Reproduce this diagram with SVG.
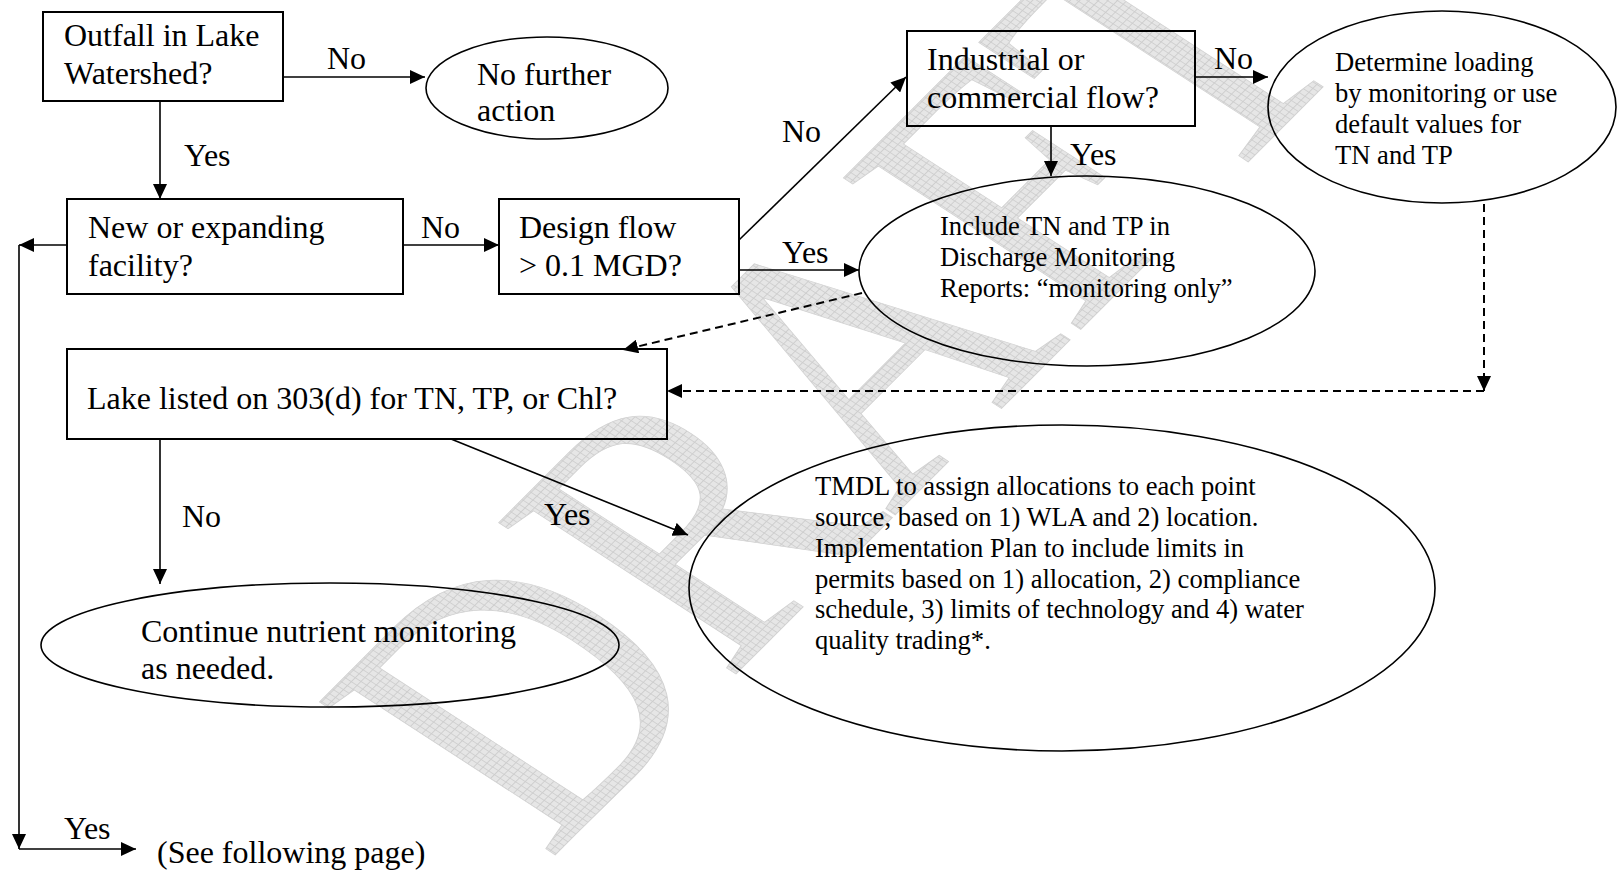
<svg xmlns="http://www.w3.org/2000/svg" width="1619" height="870" viewBox="0 0 1619 870">
<defs>
<pattern id="hatch" width="7" height="7" patternUnits="userSpaceOnUse">
<rect width="7" height="7" fill="#e6e6e6"/>
<path d="M0 0.5H7M0.5 0V7" stroke="#cccccc" stroke-width="1"/>
</pattern>
<marker id="ah" markerWidth="16" markerHeight="14" refX="15" refY="7" orient="auto" markerUnits="userSpaceOnUse">
<path d="M0,0 L15,7 L0,14 Z" fill="#000"/>
</marker>
</defs>
<style>
.box{fill:none;stroke:#000;stroke-width:2}
.ell{fill:none;stroke:#000;stroke-width:1.6}
.t{font-family:"Liberation Serif","Times New Roman",serif;font-size:32px;fill:#000}
.s{font-family:"Liberation Serif","Times New Roman",serif;font-size:26.6px;fill:#000}
.c{fill:none;stroke:#000;stroke-width:1.6}
.d{fill:none;stroke:#000;stroke-width:2;stroke-dasharray:8 5}
.wm{font-family:"Liberation Serif","Times New Roman",serif;font-size:440px;fill:url(#hatch);stroke:#d2d2d2;stroke-width:1}
</style>
<rect width="1619" height="870" fill="#fff"/>
<text class="wm" transform="matrix(0.564 -0.564 0.818 0.531 548 862)">DRAFT</text>

<g id="connectors">
<path class="c" d="M283,77 H425" marker-end="url(#ah)"/>
<path class="c" d="M160,101 V199" marker-end="url(#ah)"/>
<path class="c" d="M403,245 H499" marker-end="url(#ah)"/>
<path class="c" d="M67,245 H19" marker-end="url(#ah)"/>
<path class="c" d="M19,245 V849" marker-end="url(#ah)"/>
<path class="c" d="M19,849 H136" marker-end="url(#ah)"/>
<path class="c" d="M739,240 L906,77" marker-end="url(#ah)"/>
<path class="c" d="M739,270 H859" marker-end="url(#ah)"/>
<path class="c" d="M1195,77 H1268" marker-end="url(#ah)"/>
<path class="c" d="M1051,126 V176" marker-end="url(#ah)"/>
<path class="d" d="M862,293 L623,350" marker-end="url(#ah)"/>
<path class="d" d="M1484,204 V391" marker-end="url(#ah)"/>
<path class="d" d="M1484,391 H667" marker-end="url(#ah)"/>
<path class="c" d="M160,439 V584" marker-end="url(#ah)"/>
<path class="c" d="M451,439 L688,535" marker-end="url(#ah)"/>
<text class="t" x="327" y="69">No</text>
<text class="t" x="184" y="166">Yes</text>
<text class="t" x="421" y="238">No</text>
<text class="t" x="782" y="142">No</text>
<text class="t" x="782" y="263">Yes</text>
<text class="t" x="1214" y="69">No</text>
<text class="t" x="1070" y="165">Yes</text>
<text class="t" x="182" y="527">No</text>
<text class="t" x="544" y="525">Yes</text>
<text class="t" x="64" y="839">Yes</text>
<text class="t" x="157" y="863">(See following page)</text>
</g>

<g id="outfall">
<rect class="box" x="43" y="12" width="240" height="89"/>
<text class="t" x="64" y="46">Outfall in Lake</text>
<text class="t" x="64" y="84">Watershed?</text>
</g>
<g id="nofurther">
<ellipse class="ell" cx="547" cy="88" rx="121" ry="51"/>
<text class="t" x="477" y="85">No further</text>
<text class="t" x="477" y="121">action</text>
</g>
<g id="newexpanding">
<rect class="box" x="67" y="199" width="336" height="95"/>
<text class="t" x="88" y="238">New or expanding</text>
<text class="t" x="88" y="276">facility?</text>
</g>
<g id="designflow">
<rect class="box" x="499" y="199" width="240" height="95"/>
<text class="t" x="519" y="238">Design flow</text>
<text class="t" x="519" y="276">&gt; 0.1 MGD?</text>
</g>
<g id="industrial">
<rect class="box" x="907" y="31" width="288" height="95"/>
<text class="t" x="927" y="70">Industrial or</text>
<text class="t" x="927" y="108">commercial flow?</text>
</g>
<g id="determine">
<ellipse class="ell" cx="1442" cy="107" rx="174" ry="96"/>
<text class="s" x="1335" y="71">Determine loading</text>
<text class="s" x="1335" y="102">by monitoring or use</text>
<text class="s" x="1335" y="133">default values for</text>
<text class="s" x="1335" y="164">TN and TP</text>
</g>
<g id="include">
<ellipse class="ell" cx="1087" cy="271" rx="228" ry="95"/>
<text class="s" x="940" y="235">Include TN and TP in</text>
<text class="s" x="940" y="266">Discharge Monitoring</text>
<text class="s" x="940" y="297">Reports: “monitoring only”</text>
</g>
<g id="lakelisted">
<rect class="box" x="67" y="349" width="600" height="90"/>
<text class="t" x="87" y="409">Lake listed on 303(d) for TN, TP, or Chl?</text>
</g>
<g id="continue">
<ellipse class="ell" cx="330" cy="645" rx="289" ry="62"/>
<text class="t" x="141" y="642">Continue nutrient monitoring</text>
<text class="t" x="141" y="679">as needed.</text>
</g>
<g id="tmdl">
<ellipse class="ell" cx="1062" cy="588" rx="373" ry="163"/>
<text class="s" x="815" y="495">TMDL to assign allocations to each point</text>
<text class="s" x="815" y="526">source, based on 1) WLA and 2) location.</text>
<text class="s" x="815" y="557">Implementation Plan to include limits in</text>
<text class="s" x="815" y="588">permits based on 1) allocation, 2) compliance</text>
<text class="s" x="815" y="618">schedule, 3) limits of technology and 4) water</text>
<text class="s" x="815" y="649">quality trading*.</text>
</g>
</svg>
